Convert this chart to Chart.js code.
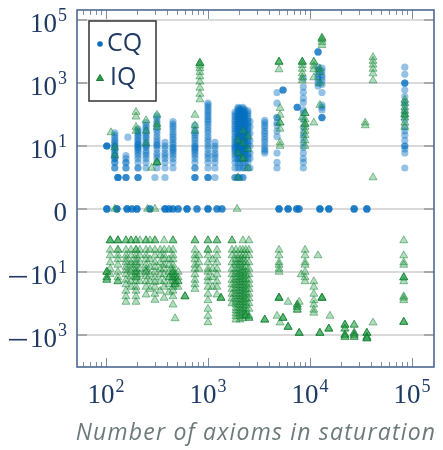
<!DOCTYPE html>
<html>
<head>
<meta charset="utf-8">
<script src="https://cdn.jsdelivr.net/npm/chart.js@4.4.0/dist/chart.umd.min.js"></script>
<style>
  html, body { margin: 0; padding: 0; background: #fff; }
</style>
</head>
<body>
<canvas id="diffs" width="443" height="450"></canvas>
<script>
// axis ticks
const xTickValues = [100, 1000, 10000, 100000];
const yTickValues = [-1000, -10, 0, 10, 1000, 100000];

// CQ: axioms in saturation -> difference, one list of values per column
const cqAxioms = [
    102, 122, 131, 157, 164, 206, 247, 302, 316, 379, 454, 745, 1000, 1170,
    1840, 1970, 2060, 2200, 2300, 2460, 2580,
    3600, 4750, 5440, 7500, 8600, 12000, 13100, 85000
];
const cqDiffs = [
    [10, 10, 10, 10],
    [26, 22, 18, 15, 13, 11, 10, 9, 8, 7, 6, 5, 5, 4, 4, 3, 3, 2, 2],
    [1, 1, 1, 1],
    [5, 4, 3, 3, 2, 2, 1, 1, 1],
    [19],
    [35, 30, 26, 22, 19, 16, 14, 12, 11, 10, 9, 8, 7, 6, 5, 4, 3, 2, 2, 1, 1, 1],
    [55, 45, 38, 32, 27, 22, 19, 16, 13, 11, 10, 9, 7, 6, 5, 4, 3, 2],
    [1],
    [90, 75, 60, 50, 40, 32, 26, 20, 16, 13, 11, 10, 8, 6, 5, 4, 3, 2],
    [13, 10, 8, 6, 5, 4, 3, 2, 1],
    [60, 50, 42, 35, 28, 23, 19, 16, 13, 11, 9, 8, 7, 6, 5, 4, 3, 2],
    [45, 32, 26, 22, 18, 15, 12, 10, 9, 8, 7, 6, 5, 4, 3, 2, 2, 1, 1, 1],
    [230, 200, 170, 140, 120, 100, 85, 70, 60, 50, 40, 32, 26, 20, 16, 13, 10, 8, 6, 5, 4, 3, 2, 1, 1, 1],
    [13, 10, 8, 6, 5, 4, 3, 2, 1],
    [120, 100, 85, 70, 60, 50, 42, 35, 30, 25, 20, 17, 14, 12, 10, 9, 8, 7, 6, 5, 4, 3, 2, 1, 1],
    [170, 150, 130, 110, 95, 80, 68, 58, 50, 42, 36, 30, 25, 21, 18, 15, 13, 11, 10, 9, 8, 7, 6, 5, 4, 3, 2, 1, 1],
    [160, 140, 120, 100, 85, 72, 62, 52, 44, 37, 31, 26, 22, 19, 16, 14, 12, 10, 9, 8, 7, 6, 5, 4, 3, 2, 1],
    [170, 150, 130, 110, 95, 80, 68, 58, 50, 42, 36, 30, 25, 21, 18, 15, 13, 11, 10, 9, 8, 7, 6, 5, 4, 3, 2, 1, 1],
    [140, 120, 100, 85, 72, 62, 52, 44, 37, 31, 26, 22, 19, 16, 14, 12, 10, 9, 8, 7, 6, 5, 4, 3, 2],
    [130, 110, 90, 75, 62, 52, 44, 37, 31, 26, 22, 18, 15, 12, 10, 8, 6, 5, 4, 3, 2],
    [60, 40, 25, 15, 10, 6, 4, 2],
    [65, 55, 45, 38, 30, 25, 20, 16, 13, 10, 8, 7, 6],
    [500, 230, 80, 80, 55, 45, 30, 20, 6, 3, 2],
    [600, 600, 600],
    [170, 170, 170],
    [1400, 750, 510, 330, 240, 140, 110, 67, 40, 26, 19, 13, 9, 6, 4, 3, 2],
    [9700, 9700, 9700, 3200, 2600, 2000, 1600, 1300, 1000, 800],
    [3000, 2400, 1800, 1500, 1200, 900, 500, 200, 170, 140, 80, 80, 80],
    [3200, 1900, 1000, 1000, 1000, 600, 370, 250, 200, 130, 97, 67, 40, 30, 22, 15, 10, 10, 8, 6, 2]
];
// CQ points sitting exactly on 0 (repeated axioms = stacked points)
const cqZeroAxioms = [
    102, 102, 102, 102, 128, 128, 128, 128, 161, 161, 161, 161, 180, 180, 180,
    201, 201, 201, 201, 270, 270, 270, 379, 379, 379, 379, 415, 415, 415,
    454, 454, 454, 510, 510, 510, 623, 623, 623, 623, 780, 780, 780,
    1000, 1000, 1000, 1000, 1225, 1225, 1225, 1370, 1370, 1370,
    4970, 4970, 4970, 4970, 6100, 6100, 6100, 6100, 7400, 7400, 7400, 7800, 7800, 7800,
    12500, 12500, 12500, 12500, 15300, 15300, 15300, 15300,
    27100, 27100, 27100, 27100, 36100, 36100, 36100, 36100
];

// IQ above zero
const iqAxioms = [
    112, 122, 197, 247, 280, 316, 745, 833, 1970, 2200, 2460, 4970, 5090,
    8400, 8950, 10900, 12500, 13100, 34800, 41500, 85000
];
const iqDiffs = [
    [27],
    [9, 5],
    [120, 85, 40, 30],
    [65, 30, 12],
    [2],
    [97, 50, 40, 3, 3, 3],
    [97, 45, 30],
    [4300, 4300, 4300, 3600, 2900, 2200, 1600, 1100, 700, 450, 300],
    [15, 6, 1],
    [30, 12, 4, 4],
    [20, 8, 2],
    [4700, 4700, 4700, 2700],
    [160, 97, 55, 55, 35, 13, 10],
    [4700, 4700, 4700, 3700, 2800, 2000, 1500, 1200, 80],
    [110, 110, 70, 50, 50, 40, 30, 22, 15, 10],
    [4700, 4700, 3500, 2700, 1500, 55],
    [2800, 2200, 1000, 200],
    [27000, 27000, 24000, 20000, 16000],
    [55, 45],
    [6600, 5000, 3800, 2800, 2000, 1200, 1],
    [290, 230, 170, 130, 100, 100, 80, 55, 40]
];
const iqZeroAxioms = [122, 256, 302, 1930];

// IQ below zero
const iqNegAxioms = [
    102, 110, 131, 157, 176, 197, 215, 247, 270, 302, 340, 372, 415, 454, 476, 510,
    595, 745, 815, 1000, 1110, 1225, 1340, 1720, 1880, 2060, 2200, 2350, 2520,
    3600, 4750, 4970, 5090, 5440, 6100, 7500, 7840, 8200, 8950, 10900, 11970,
    12500, 13100, 15300, 15700, 22000, 27100, 36100, 41500, 83000
];
const iqNegDiffs = [
    [-10, -10, -10, -15, -15, -18, -18],
    [-1, -1, -1, -2, -3, -5, -8, -12],
    [-1, -1, -1, -2, -2, -3, -4, -6, -10, -15, -20, -20],
    [-1, -1, -2, -3, -4, -5, -7, -9, -12, -18, -25, -40, -60, -90],
    [-1, -1, -2, -3, -5, -6, -8, -10, -14, -20, -30],
    [-1, -1, -2, -2, -3, -4, -5, -6, -8, -10, -10, -12, -15, -15, -20, -30, -40, -60, -90],
    [-1, -2, -3, -5, -8, -12, -20],
    [-1, -1, -2, -3, -4, -6, -8, -10, -10, -14, -20, -30, -53],
    [-1, -2, -4, -7, -12, -20, -35],
    [-1, -1, -2, -3, -5, -7, -10, -15, -21, -30, -50, -78],
    [-2, -3, -5, -8, -12, -20, -40],
    [-1, -2, -3, -4, -6, -8, -12, -20, -30, -67],
    [-2, -4, -6, -10, -15, -15, -25, -45],
    [-1, -1, -2, -3, -4, -6, -8, -10, -10, -12, -15, -15, -20, -30, -40, -60, -110],
    [-12, -15, -20, -20, -25, -25, -300],
    [-10, -15, -20, -20, -30],
    [-60, -60, -60],
    [-1, -1, -2, -3, -4, -6, -8, -12, -18, -25, -35],
    [-3, -5, -8],
    [-1, -1, -2, -2, -3, -5, -8, -10, -15, -20, -30, -50, -80, -150, -250, -400],
    [-4, -8, -15, -30],
    [-1, -1, -2, -3, -5, -8, -12, -20, -30, -53],
    [-67, -67, -67],
    [-1, -1, -2, -3, -5, -8, -12, -18, -25, -35, -50, -70, -100],
    [-2, -3, -4, -5, -6, -8, -10, -12, -15, -18, -22, -27, -33, -40, -50, -60, -75, -90, -110, -140, -170, -210, -260, -330],
    [-2, -3, -4, -5, -6, -8, -10, -12, -15, -18, -22, -27, -33, -40, -50, -60, -75, -90, -110, -140, -170, -210, -260, -330],
    [-1, -2, -3, -4, -5, -7, -9, -11, -14, -17, -21, -26, -32, -40, -50, -62, -78, -95, -120, -150, -190, -240, -300],
    [-2, -3, -5, -7, -10, -13, -17, -22, -28, -36, -45, -57, -72, -90, -115, -145, -185, -230, -250, -250],
    [-1, -2, -3, -5, -8, -12, -18, -25, -35, -50, -70, -100, -150, -250, -290, -290],
    [-330, -330, -330],
    [-250],
    [-2, -3, -5, -6, -8, -10, -67, -67, -67, -67],
    [-410],
    [-290, -290, -290],
    [-90, -560, -560, -560],
    [-110, -110, -130, -130, -160, -160],
    [-90, -870, -870, -870],
    [-12],
    [-2, -3, -5, -6, -10, -15, -20],
    [-20, -30, -50, -80, -110, -160, -200],
    [-3],
    [-870, -870, -870],
    [-67, -67, -67, -67],
    [-640, -640, -640],
    [-250],
    [-480, -480, -480, -640, -640, -1000, -1000, -1000, -1170, -1170],
    [-480, -480, -870, -870, -1000, -1000, -1170, -1170],
    [-870, -870, -870, -1170, -1170, -1300, -1300, -1300],
    [-410],
    [-1, -3, -5, -6, -15, -15, -15, -20, -60, -67, -80, -390, -390, -390]
];

const NAVY = '#1f3a63';
const BLUE = 'rgba(0, 110, 190, 0.42)';
const GREEN = 'rgba(40, 160, 70, 0.36)';
const GREEN_EDGE = 'rgba(10, 120, 45, 0.45)';

// symmetric log: linear inside [-1, 1], one unit per decade outside
function symlog(v) {
    const a = Math.abs(v);
    return a <= 1 ? v : Math.sign(v) * (1 + Math.log10(a));
}

function toPoints(axioms, diffs) {
    const pts = [];
    axioms.forEach((x, i) => diffs[i].forEach(v => pts.push({x: x, y: symlog(v)})));
    return pts;
}

const cqPoints = toPoints(cqAxioms, cqDiffs)
    .concat(cqZeroAxioms.map(x => ({x: x, y: 0})));
const iqPoints = toPoints(iqAxioms, iqDiffs)
    .concat(iqZeroAxioms.map(x => ({x: x, y: 0})))
    .concat(toPoints(iqNegAxioms, iqNegDiffs));

const SERIF = '"Liberation Serif", "DejaVu Serif", serif';

// "10^k" with a raised exponent, optional leading minus
function powerLabel(ctx, v, x, base, align) {
    ctx.fillStyle = NAVY;
    ctx.textBaseline = 'alphabetic';
    ctx.textAlign = 'left';
    if (v === 0) {
        ctx.font = '27px ' + SERIF;
        const w0 = ctx.measureText('0').width;
        ctx.fillText('0', align === 'right' ? x - w0 : x - w0 / 2, base);
        return;
    }
    const exp = String(Math.round(Math.log10(Math.abs(v))));
    ctx.font = '27px ' + SERIF;
    const wTen = ctx.measureText('10').width;
    ctx.font = '18px ' + SERIF;
    const wExp = ctx.measureText(exp).width;
    const total = wTen + wExp + 1;
    let left = align === 'right' ? x - total : x - total / 2;
    ctx.font = '27px ' + SERIF;
    ctx.fillText('10', left, base);
    if (v < 0) {
        ctx.fillRect(left - 21, base - 8, 18, 1.6);
    }
    ctx.font = '18px ' + SERIF;
    ctx.fillText(exp, left + wTen + 1, base - 11);
}

const decorations = {
    id: 'decorations',
    beforeDatasetsDraw(chart) {
        const {ctx, chartArea: a, scales: {y}} = chart;
        ctx.save();
        ctx.strokeStyle = '#dadada';
        ctx.lineWidth = 2;
        yTickValues.forEach(v => {
            const py = Math.round(y.getPixelForValue(symlog(v)));
            ctx.beginPath();
            ctx.moveTo(a.left, py);
            ctx.lineTo(a.right, py);
            ctx.stroke();
        });
        ctx.restore();
    },
    afterDraw(chart) {
        const {ctx, chartArea: a, scales: {x, y}} = chart;
        ctx.save();

        // y tick stubs on both sides
        ctx.strokeStyle = '#a9a9a9';
        ctx.lineWidth = 2;
        yTickValues.forEach(v => {
            const py = Math.round(y.getPixelForValue(symlog(v)));
            ctx.beginPath();
            ctx.moveTo(a.left, py); ctx.lineTo(a.left + 10, py);
            ctx.moveTo(a.right - 10, py); ctx.lineTo(a.right, py);
            ctx.stroke();
        });

        // x ticks, mirrored on top
        ctx.strokeStyle = '#7b8fa8';
        ctx.lineWidth = 1;
        for (let k = 1; k <= 5; k++) {
            for (let m = 1; m <= 9; m++) {
                const v = m * Math.pow(10, k);
                if (v < x.min || v > x.max) continue;
                const px = Math.round(x.getPixelForValue(v)) + 0.5;
                const len = m === 1 ? 9 : 5;
                ctx.beginPath();
                ctx.moveTo(px, a.bottom); ctx.lineTo(px, a.bottom - len);
                ctx.moveTo(px, a.top); ctx.lineTo(px, a.top + len);
                ctx.stroke();
            }
        }

        // frame
        ctx.strokeStyle = '#4b6890';
        ctx.lineWidth = 1.6;
        ctx.strokeRect(a.left, a.top, a.right - a.left, a.bottom - a.top);

        // tick labels
        xTickValues.forEach(v => powerLabel(ctx, v, x.getPixelForValue(v), 403, 'center'));
        yTickValues.forEach(v => powerLabel(ctx, v, 67, y.getPixelForValue(symlog(v)) + 12, 'right'));

        // axis title
        ctx.font = 'italic 23px "Open Sans"';
        ctx.letterSpacing = '1.2px';
        ctx.fillStyle = '#6d7a7a';
        ctx.textAlign = 'center';
        ctx.textBaseline = 'alphabetic';
        ctx.fillText('Number of axioms in saturation', 256, 440);
        ctx.letterSpacing = '0px';

        // legend
        ctx.fillStyle = '#fff';
        ctx.fillRect(89, 21, 67, 80);
        ctx.strokeStyle = '#333';
        ctx.lineWidth = 1.5;
        ctx.strokeRect(89, 21, 67, 80);
        ctx.fillStyle = '#0a6ebd';
        ctx.beginPath();
        ctx.arc(100, 44, 2.8, 0, Math.PI * 2);
        ctx.fill();
        ctx.fillStyle = '#2a9a45';
        ctx.strokeStyle = '#167a32';
        ctx.lineWidth = 1;
        ctx.beginPath();
        ctx.moveTo(100, 74.5); ctx.lineTo(103.5, 80.5); ctx.lineTo(96.5, 80.5);
        ctx.closePath();
        ctx.fill(); ctx.stroke();
        ctx.fillStyle = NAVY;
        ctx.font = '25px "Open Sans"';
        ctx.textAlign = 'left';
        ctx.fillText('CQ', 107, 51);
        ctx.fillText('IQ', 110, 85);

        ctx.restore();
    }
};

new Chart(document.getElementById('diffs'), {
    type: 'scatter',
    data: {
        datasets: [{
            label: 'CQ',
            data: cqPoints,
            pointStyle: 'circle',
            pointRadius: 3.6,
            backgroundColor: BLUE,
            borderWidth: 0,
            order: 1
        }, {
            label: 'IQ',
            data: iqPoints,
            pointStyle: 'triangle',
            pointRadius: 4.6,
            backgroundColor: GREEN,
            borderColor: GREEN_EDGE,
            borderWidth: 1,
            order: 0
        }]
    },
    options: {
        responsive: false,
        animation: false,
        devicePixelRatio: 1,
        layout: { padding: { left: 77, top: 10, right: 9, bottom: 83 } },
        plugins: { legend: { display: false }, tooltip: { enabled: false } },
        scales: {
            x: { type: 'logarithmic', min: 52, max: 164300, display: false },
            y: { type: 'linear', min: -5.02, max: 6.32, display: false }
        }
    },
    plugins: [decorations]
});
</script>
</body>
</html>
